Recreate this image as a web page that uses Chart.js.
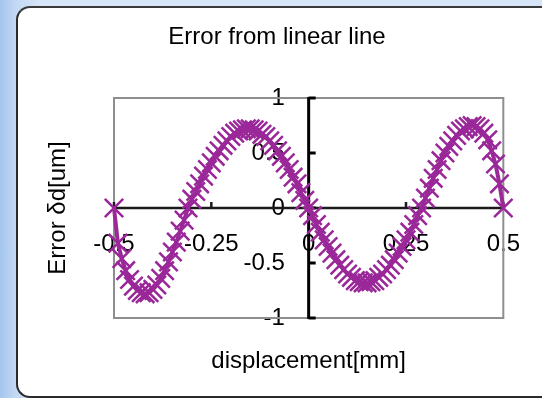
<!DOCTYPE html>
<html>
<head>
<meta charset="utf-8">
<script src="https://cdn.jsdelivr.net/npm/chart.js@4/dist/chart.umd.min.js"></script>
<style>
  html { margin: 0; padding: 0; overflow: hidden; background: #d6e6f8; }
  body {
    margin: 0; padding: 0;
    width: 542px; height: 398px; overflow: hidden; position: relative;
    background: linear-gradient(to right, #a4c5ee 0px, #c2d8f4 15px, #d6e6f8 40px);
  }
  #panel {
    position: absolute; left: 16px; top: 6px; right: -60px; height: 388px;
    background: #fff;
    border-left: 2px solid #2b2b2b; border-top: 2px solid #3a3a3a; border-bottom: 2px solid #2b2b2b;
    border-top-left-radius: 14px; border-bottom-left-radius: 14px;
  }
  #chart { position: absolute; left: 0; top: 0; }
</style>
</head>
<body>
<div id="panel"></div>
<canvas id="chart" width="542" height="398"></canvas>
<script>
// ===== DATA =====
const displacement = [
  -0.50, -0.49, -0.48, -0.47, -0.46, -0.45, -0.44, -0.43, -0.42, -0.41,
  -0.40, -0.39, -0.38, -0.37, -0.36, -0.35, -0.34, -0.33, -0.32, -0.31,
  -0.30, -0.29, -0.28, -0.27, -0.26, -0.25, -0.24, -0.23, -0.22, -0.21,
  -0.20, -0.19, -0.18, -0.17, -0.16, -0.15, -0.14, -0.13, -0.12, -0.11,
  -0.10, -0.09, -0.08, -0.07, -0.06, -0.05, -0.04, -0.03, -0.02, -0.01,
  0.00, 0.01, 0.02, 0.03, 0.04, 0.05, 0.06, 0.07, 0.08, 0.09,
  0.10, 0.11, 0.12, 0.13, 0.14, 0.15, 0.16, 0.17, 0.18, 0.19,
  0.20, 0.21, 0.22, 0.23, 0.24, 0.25, 0.26, 0.27, 0.28, 0.29,
  0.30, 0.31, 0.32, 0.33, 0.34, 0.35, 0.36, 0.37, 0.38, 0.39,
  0.40, 0.41, 0.42, 0.43, 0.44, 0.45, 0.46, 0.47, 0.48, 0.49,
  0.50
];
const errorUm = [
  0.00, -0.32, -0.46, -0.57, -0.65, -0.71, -0.75, -0.77, -0.78, -0.77,
  -0.74, -0.70, -0.64, -0.57, -0.49, -0.40, -0.31, -0.21, -0.11, 0.00,
  0.08, 0.15, 0.22, 0.29, 0.35, 0.41, 0.47, 0.52, 0.57, 0.61,
  0.65, 0.68, 0.70, 0.71, 0.72, 0.72, 0.71, 0.70, 0.67, 0.65,
  0.61, 0.57, 0.52, 0.47, 0.41, 0.35, 0.28, 0.22, 0.14, 0.07,
  0.00, -0.07, -0.15, -0.22, -0.29, -0.35, -0.41, -0.47, -0.52, -0.56,
  -0.60, -0.63, -0.66, -0.67, -0.68, -0.68, -0.67, -0.66, -0.63, -0.60,
  -0.56, -0.52, -0.47, -0.41, -0.35, -0.29, -0.22, -0.15, -0.07, 0.00,
  0.09, 0.18, 0.27, 0.35, 0.43, 0.50, 0.56, 0.61, 0.66, 0.70,
  0.72, 0.74, 0.75, 0.74, 0.72, 0.68, 0.62, 0.52, 0.40, 0.22,
  0.00
];
const xTicks = [-0.5, -0.25, 0, 0.25, 0.5];
const yTicks = [-1, -0.5, 0, 0.5, 1];

const markColor = "#9a2899";

Chart.defaults.font.family = "'Liberation Sans', Arial, sans-serif";
Chart.defaults.color = "#000";

// frame, axis lines through 0 and inner tick marks
const frameAxes = {
  id: "frameAxes",
  beforeDatasetsDraw(chart) {
    const { ctx, chartArea: a, scales: { x, y } } = chart;
    const x0 = x.getPixelForValue(0), y0 = y.getPixelForValue(0);
    ctx.save();
    ctx.strokeStyle = "#8e8e8e";
    ctx.lineWidth = 2;
    ctx.strokeRect(a.left, a.top, a.right - a.left, a.bottom - a.top);

    ctx.strokeStyle = "#1a1a1a";
    ctx.lineWidth = 2.5;
    ctx.beginPath();
    ctx.moveTo(a.left, y0); ctx.lineTo(a.right, y0);
    xTicks.forEach(v => {
      const px = x.getPixelForValue(v);
      ctx.moveTo(px, y0); ctx.lineTo(px, y0 - 6);
    });
    ctx.stroke();

    ctx.strokeStyle = "#000";
    ctx.lineWidth = 3;
    ctx.beginPath();
    ctx.moveTo(x0, a.top - 1); ctx.lineTo(x0, a.bottom + 1);
    yTicks.forEach(v => {
      const py = y.getPixelForValue(v);
      ctx.moveTo(x0, py); ctx.lineTo(x0 + 7, py);
    });
    ctx.stroke();
    ctx.restore();
  }
};

new Chart(document.getElementById("chart"), {
  type: "scatter",
  data: {
    datasets: [{
      data: displacement.map((d, i) => ({ x: d, y: errorUm[i] })),
      showLine: true,
      borderColor: markColor,
      borderWidth: 4,
      pointStyle: "crossRot",
      pointRadius: 13,
      pointBorderWidth: 2.5,
      pointBorderColor: markColor,
      pointBackgroundColor: markColor,
      clip: 20
    }]
  },
  options: {
    responsive: false,
    animation: false,
    layout: { padding: { left: 46, right: 34, top: 0, bottom: 0 } },
    plugins: {
      legend: { display: false },
      tooltip: { enabled: false },
      title: {
        display: true,
        text: "Error from linear line",
        font: { size: 24, weight: "normal", lineHeight: 1.2 },
        padding: { top: 22.6, bottom: 46.6 }
      },
      subtitle: {
        display: true,
        text: "displacement[mm]",
        position: "bottom",
        fullSize: false,
        color: "#000",
        font: { size: 24, weight: "normal", lineHeight: 1.2 },
        padding: { top: 28.6, bottom: 22.6 }
      }
    },
    scales: {
      x: {
        type: "linear",
        min: -0.5, max: 0.5,
        position: { y: 0 },
        grid: { display: false, drawTicks: false },
        border: { display: false },
        afterBuildTicks: s => { s.ticks = xTicks.map(v => ({ value: v })); },
        ticks: { font: { size: 24 }, padding: 22, maxRotation: 0, autoSkip: false,
                 callback: v => String(v) }
      },
      y: {
        type: "linear",
        min: -1, max: 1,
        position: { x: -0.061 },
        grid: { display: false, drawTicks: false },
        border: { display: false },
        afterBuildTicks: s => { s.ticks = yTicks.map(v => ({ value: v })); },
        ticks: { font: { size: 24 }, autoSkip: false, callback: v => String(v) }
      },
      yTitle: {
        type: "linear",
        position: "left",
        display: true,
        grid: { display: false, drawTicks: false },
        border: { display: false },
        ticks: { display: false },
        title: {
          display: true,
          text: "Error δd[um]",
          font: { size: 24, lineHeight: 1 },
          padding: { top: 0, bottom: 44 }
        }
      }
    }
  },
  plugins: [frameAxes]
});
</script>
</body>
</html>
